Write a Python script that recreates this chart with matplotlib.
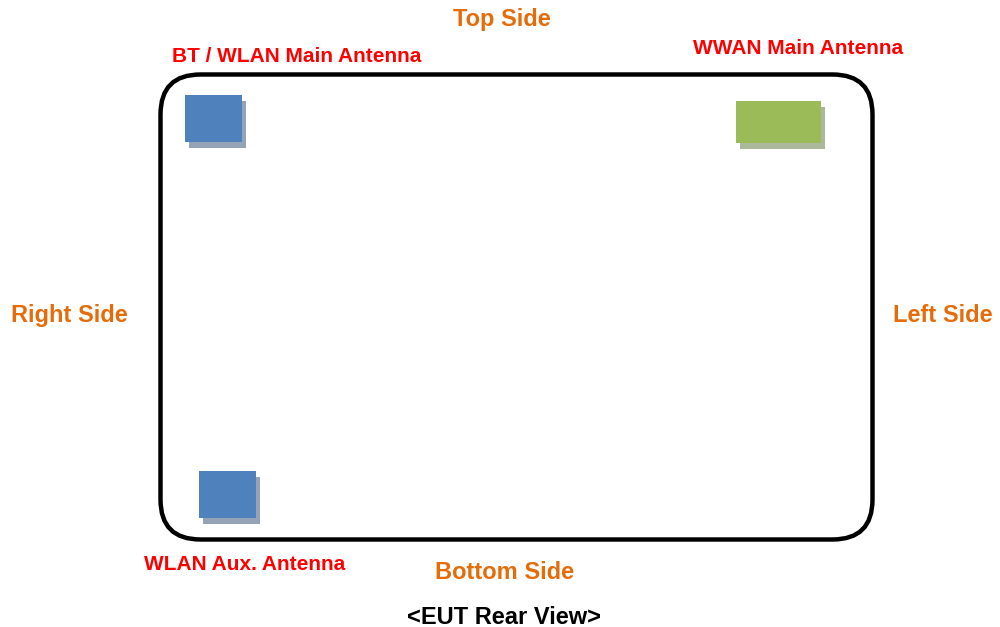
import matplotlib.pyplot as plt
from matplotlib.patches import FancyBboxPatch, Rectangle

plt.rcParams['font.family'] = ['Liberation Sans', 'DejaVu Sans']

# antenna blocks: (x, y, w, h) in pixel space of the 1000x627 image
antenna_names = ['BT / WLAN Main Antenna', 'WWAN Main Antenna', 'WLAN Aux. Antenna']
antenna_boxes = [(185, 95, 57, 47), (736, 101, 85, 42), (199, 471, 57, 47)]
antenna_colors = ['#4F81BD', '#9BBB59', '#4F81BD']
shadow_colors = ['#95A3B6', '#ABB89C', '#95A3B6']
antenna_label_pos = [(172, 61.5), (693, 53.5), (144, 570)]

side_names = ['Top Side', 'Right Side', 'Left Side', 'Bottom Side']
side_label_pos = [(453, 26), (11, 322), (893, 322), (435, 579)]

fig = plt.figure(figsize=(10, 6.27), dpi=100)
ax = fig.add_axes([0, 0, 1, 1])
ax.set_xlim(0, 1000)
ax.set_ylim(627, 0)
ax.axis('off')

# device outline
body = FancyBboxPatch((160.5, 74.5), 712, 465,
                      boxstyle='round,pad=0,rounding_size=40',
                      fc='white', ec='black', lw=3.2)
ax.add_patch(body)

for (x, y, w, h), c, sc in zip(antenna_boxes, antenna_colors, shadow_colors):
    ax.add_patch(Rectangle((x + 3.5, y + 6), w, h, fc=sc, ec='none'))
    ax.add_patch(Rectangle((x, y), w, h, fc=c, ec='none'))

for name, (x, y) in zip(antenna_names, antenna_label_pos):
    ax.text(x, y, name, color='#FF0000', fontsize=15, fontweight='bold',
            ha='left', va='baseline')

for name, (x, y) in zip(side_names, side_label_pos):
    ax.text(x, y, name, color='#E46C0A', fontsize=17, fontweight='bold',
            ha='left', va='baseline')

ax.text(407, 624, '<EUT Rear View>', color='black', fontsize=17,
        fontweight='bold', ha='left', va='baseline')

fig.savefig('out.png', dpi=100)
